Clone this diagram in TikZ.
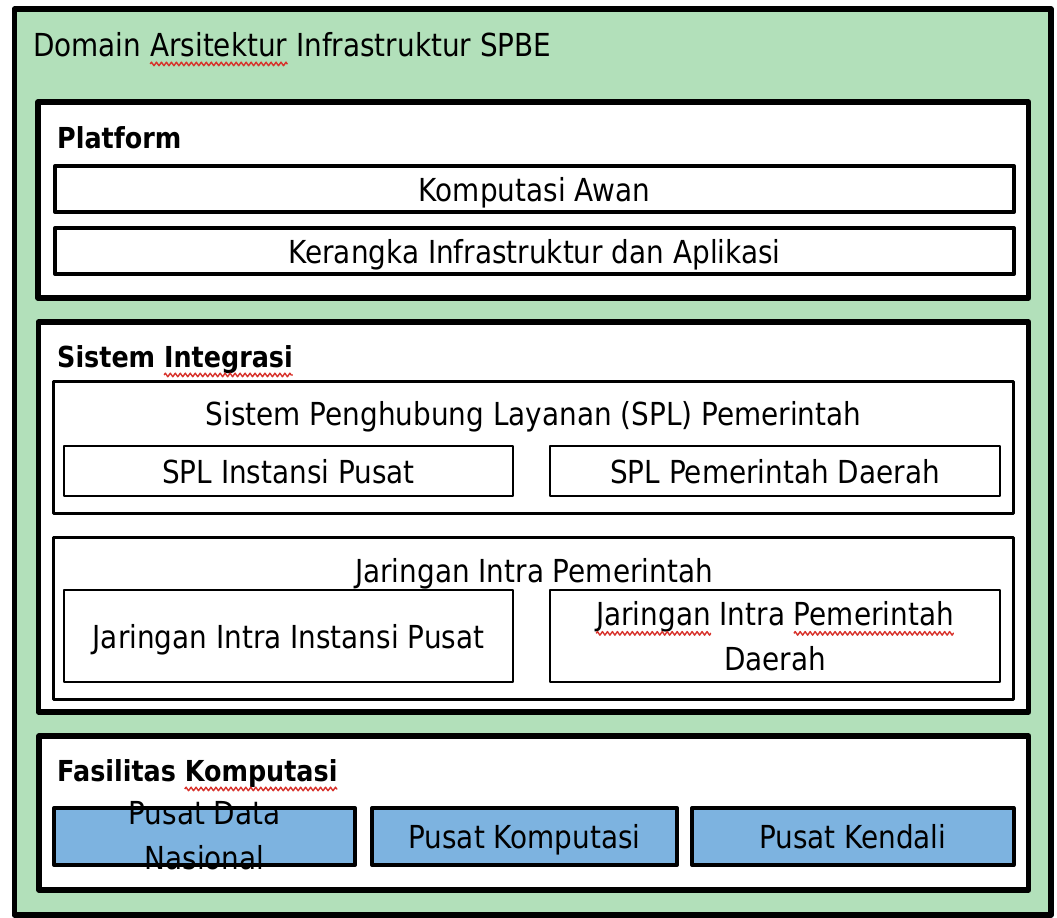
\documentclass[tikz,border=0pt]{standalone}
\usepackage{fontspec}
\setmainfont{DejaVu Sans}[FakeStretch=0.88]
\usetikzlibrary{decorations.pathmorphing}

\definecolor{panelgreen}{HTML}{B2E0BA}
\definecolor{tileblue}{HTML}{7DB3E0}
\definecolor{spellred}{HTML}{D8322B}

\tikzset{
  wavyline/.style={spellred, line width=1.4pt, line join=round, decorate,
    decoration={zigzag, amplitude=1.8pt, segment length=5pt}},
  frame/.style={draw=black, rectangle, inner sep=0pt, line join=round, fill=white},
  heavy/.style={frame, line width=5.5bp},
  medium/.style={frame, line width=4bp},
  light/.style={frame, line width=3bp},
  thin/.style={frame, line width=2bp},
  bodyfont/.style={font=\fontsize{31.8}{45}\selectfont},
  onerow/.style={bodyfont, text height=30bp, text depth=6bp},
  tworow/.style={bodyfont, align=center},
  heading/.style={font=\fontsize{29}{34}\selectfont\bfseries, inner sep=0pt, anchor=base west},
  caption/.style={bodyfont, inner sep=0pt, anchor=base},
}

% red squiggle under a word, as drawn by a spell checker
\newsavebox\wavybox
\newcommand\wavy[1]{%
  \sbox\wavybox{#1}%
  \rlap{\usebox\wavybox}%
  \tikz[overlay,x=1pt,y=1pt,baseline=0pt]\draw[wavyline] (0,-8) -- (\the\wd\wavybox,-8);%
  \hspace*{\wd\wavybox}}

\begin{document}
\begin{tikzpicture}[x=1bp,y=-1bp]
\useasboundingbox (0,0) rectangle (1057,918);
\fill[white] (0,0) rectangle (1057,918);

% outer domain panel
\node[heavy, fill=panelgreen, minimum width=1036.5bp, minimum height=906bp] (domain) at (532.75,462) {};
\node[heading, font=\fontsize{31.8}{40}\selectfont] (domaintitle) at (33,56) {Domain \wavy{Arsitektur} Infrastruktur SPBE};

% platform layer
\node[heavy, minimum width=990.5bp, minimum height=196bp] (platform) at (533.25,200) {};
\node[heading] (platformtitle) at (57,148) {Platform};
\node[medium, onerow, minimum width=959bp, minimum height=46bp] (awan) at (534.5,189) {Komputasi Awan};
\node[medium, onerow, minimum width=959bp, minimum height=46bp] (kerangka) at (534.5,251) {Kerangka Infrastruktur dan Aplikasi};

% integration layer
\node[heavy, minimum width=990bp, minimum height=390bp] (integrasi) at (533.5,517) {};
\node[heading] (integrasititle) at (57,367) {Sistem \wavy{Integrasi}};

\node[light, minimum width=960bp, minimum height=132bp] (spl) at (533.5,447) {};
\node[caption] (spltitle) at (533.5,425) {Sistem Penghubung Layanan (SPL) Pemerintah};
\node[thin, onerow, minimum width=449bp, minimum height=50bp] (splpusat) at (288.5,471) {SPL Instansi Pusat};
\node[thin, onerow, minimum width=450bp, minimum height=50bp] (spldaerah) at (775,471) {SPL Pemerintah Daerah};

\node[light, minimum width=960bp, minimum height=162bp] (jaringan) at (533.5,618) {};
\node[caption] (jaringantitle) at (534,582) {Jaringan Intra Pemerintah};
\node[thin, onerow, minimum width=449bp, minimum height=92bp] (jarpusat) at (288.5,636) {Jaringan Intra Instansi Pusat};
\node[thin, tworow, minimum width=450bp, minimum height=92bp] (jardaerah) at (775,636) {\wavy{Jaringan} Intra \wavy{Pemerintah}\\Daerah};

% computing facilities layer
\node[heavy, minimum width=989.5bp, minimum height=154bp] (fasilitas) at (533.75,813) {};
\node[heading] (fasilitastitle) at (57,781) {Fasilitas \wavy{Komputasi}};
\node[medium, fill=tileblue, minimum width=301bp, minimum height=57bp] (pdn) at (204.5,836.5) {};
% the two-line label is wider than the tile and runs over its border
\node[tworow, inner sep=0pt] (pdnlabel) at ([yshift=1bp]pdn.center) {Pusat Data\\Nasional};
\node[medium, fill=tileblue, onerow, minimum width=305bp, minimum height=57bp] (pkom) at (524.5,836.5) {Pusat Komputasi};
\node[medium, fill=tileblue, onerow, minimum width=321.5bp, minimum height=57bp] (pken) at (852.75,836.5) {Pusat Kendali};
\end{tikzpicture}
\end{document}
